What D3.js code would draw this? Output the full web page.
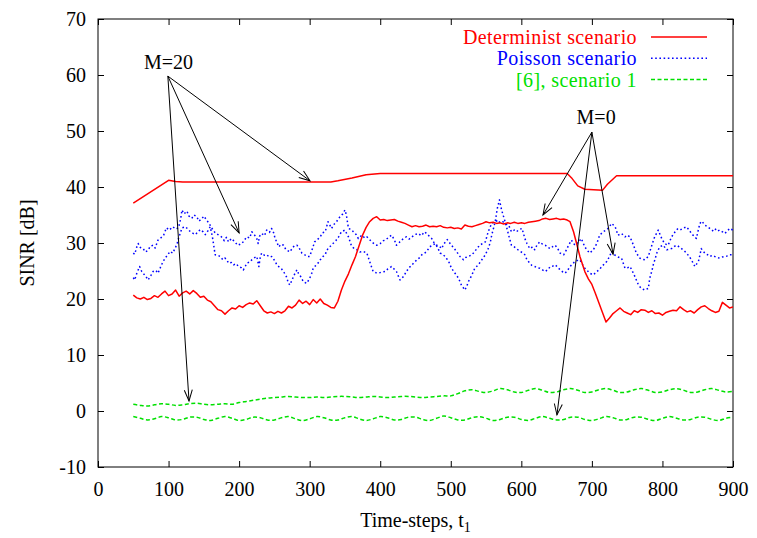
<!DOCTYPE html>
<html>
<head>
<meta charset="utf-8">
<script src="https://cdn.jsdelivr.net/npm/d3@7"></script>
<style>
  html, body { margin: 0; padding: 0; background: #fff; }
  svg text { font-family: "Liberation Serif", "Times New Roman", serif; }
</style>
</head>
<body>
<svg id="chart" width="757" height="538"></svg>
<script>
// ---- axes ----
const xTicks = [0, 100, 200, 300, 400, 500, 600, 700, 800, 900];
const yTicks = [-10, 0, 10, 20, 30, 40, 50, 60, 70];

// ---- Determinist scenario: M=20 (upper) and M=0 (lower), [t, SINR dB] ----
const detM20 = [[50,37.1],[100,41.2],[110,41.0],[120,40.9],[330,40.9],[340,41.1],[360,41.6],[380,42.2],[400,42.4],
  [665,42.4],[672,41.5],[680,40.2],[690,39.6],[715,39.4],[722,40.5],[735,42.0],[900,42.0]];

const detM0 = [[50,20.7],[55,20.2],[60,20.0],[65,20.3],[70,19.9],[75,20.1],[80,20.6],[85,20.3],[90,20.9],[95,21.4],
  [100,20.6],[105,20.9],[110,21.6],[115,20.5],[120,21.1],[125,21.4],[130,20.9],[135,21.5],[140,21.0],[145,20.3],
  [150,20.5],[155,19.8],[160,19.5],[165,18.8],[170,18.1],[175,17.9],[180,17.3],[185,17.9],[190,18.4],[195,18.2],
  [200,18.8],[205,18.5],[210,19.0],[215,19.3],[220,19.1],[225,19.7],[230,18.8],[235,17.9],[240,17.5],[245,17.7],
  [250,17.4],[255,17.8],[260,17.5],[265,17.9],[270,18.7],[275,18.4],[280,18.9],[285,19.8],[290,19.2],[295,19.6],
  [300,19.0],[305,19.9],[310,19.3],[315,20.0],[320,19.2],[325,18.9],[330,18.5],[335,18.4],[340,19.6],[345,21.6],
  [350,23.2],[355,24.5],[360,26.1],[365,27.6],[370,29.5],[375,31.4],[380,32.8],[385,33.8],[390,34.4],[395,34.7],
  [400,34.1],[405,34.2],[410,34.0],[415,34.1],[420,34.2],[425,33.9],[430,33.7],[435,33.5],[440,33.2],[445,32.9],
  [450,33.1],[455,32.9],[460,33.0],[465,33.2],[470,32.9],[475,33.0],[480,32.9],[485,33.1],[490,32.8],[495,32.7],
  [500,32.8],[505,32.6],[510,32.7],[515,32.5],[520,33.2],[525,33.0],[530,32.9],[535,33.1],[540,33.3],[545,33.5],
  [550,33.8],[555,33.6],[560,33.7],[565,33.5],[570,33.6],[575,33.4],[580,33.6],[585,33.5],[590,33.7],[595,33.5],
  [600,33.6],[605,33.5],[610,33.7],[615,33.8],[620,33.9],[625,34.0],[630,34.3],[635,34.4],[640,34.2],[645,34.3],
  [650,34.4],[655,34.2],[660,34.3],[665,34.1],[669,33.8],[674,32.0],[679,29.6],[683,27.6],[690,24.9],[695,23.6],
  [700,22.6],[705,21.0],[710,19.3],[715,17.6],[720,15.9],[725,16.6],[730,17.4],[735,17.9],[740,18.4],[745,17.8],
  [750,17.5],[755,17.2],[760,17.9],[765,17.6],[770,18.1],[775,18.0],[780,17.6],[785,17.9],[790,17.4],[795,17.5],
  [800,17.1],[805,17.6],[810,17.8],[815,18.0],[820,17.9],[825,18.6],[830,18.1],[835,17.7],[840,17.9],[845,17.5],
  [850,18.1],[855,18.6],[860,18.8],[865,18.3],[870,17.9],[875,17.6],[880,17.8],[885,19.4],[890,18.9],[895,18.4],[900,18.6]];

// ---- Poisson scenario: two runs ----
const poissonA = [[50,28.2],[52,28.0],[55,29.3],[57,29.9],[60,29.2],[64,29.0],[67,28.4],[71,28.7],[74,29.4],[78,29.6],
  [81,29.1],[85,30.5],[89,30.9],[93,31.4],[97,32.7],[101,32.3],[106,32.9],[110,32.5],[114,32.7],[117,34.2],
  [119,35.9],[122,35.2],[126,35.7],[129,34.8],[133,34.4],[136,35.0],[140,34.7],[143,33.9],[147,34.3],[150,34.8],
  [154,34.1],[158,33.4],[161,32.7],[164,32.2],[166,31.8],[170,31.5],[175,31.1],[179,30.4],[182,31.0],[185,30.2],
  [189,30.8],[194,30.2],[198,29.6],[204,29.9],[208,30.6],[211,31.1],[215,30.9],[218,32.0],[222,31.4],[225,30.8],
  [227,29.9],[229,31.2],[232,31.7],[236,31.3],[239,32.3],[243,31.9],[246,32.6],[249,31.8],[251,30.8],[254,30.0],
  [256,29.3],[260,29.8],[263,29.6],[266,28.9],[268,28.7],[272,28.4],[274,28.8],[278,29.5],[282,29.6],[286,28.9],
  [289,28.2],[293,27.9],[296,27.6],[300,27.6],[304,29.0],[307,30.2],[311,30.6],[315,31.1],[318,31.8],[322,32.0],
  [326,33.8],[329,33.1],[331,32.6],[335,33.4],[338,33.8],[343,34.7],[347,35.2],[350,35.9],[352,35.0],[355,32.6],
  [359,32.4],[362,32.0],[366,31.5],[369,30.8],[374,31.4],[378,30.9],[381,31.1],[385,30.6],[388,30.2],[392,29.8],
  [395,29.6],[400,29.9],[404,30.4],[407,30.5],[411,30.9],[416,31.4],[420,30.6],[423,29.6],[427,30.1],[430,30.5],
  [434,30.9],[437,31.1],[441,30.7],[445,31.1],[449,31.5],[454,31.7],[458,31.3],[463,32.0],[468,31.4],[473,30.8],
  [476,30.1],[480,29.6],[484,29.4],[487,29.0],[490,29.8],[495,30.6],[501,29.6],[505,29.0],[508,28.5],[513,27.6],
  [518,27.0],[521,27.4],[525,27.6],[530,27.9],[534,28.5],[537,29.0],[541,29.6],[545,29.9],[549,30.2],[553,32.0],
  [558,33.5],[563,33.8],[567,34.1],[570,33.6],[574,33.8],[578,33.4],[582,33.2],[586,32.0],[590,32.3],[593,32.0],
  [597,32.4],[601,32.6],[605,30.8],[608,29.9],[612,29.0],[616,29.3],[619,28.8],[622,29.6],[626,30.2],[630,29.8],
  [634,29.6],[638,29.2],[641,29.0],[645,29.4],[648,29.6],[652,28.9],[655,28.2],[660,27.9],[664,28.8],[667,29.6],
  [671,30.5],[676,29.6],[681,30.2],[685,30.8],[690,29.3],[694,28.6],[697,28.2],[702,28.8],[707,29.9],[711,31.4],
  [716,32.0],[720,32.3],[723,32.6],[728,33.5],[733,32.9],[737,31.4],[742,31.7],[747,31.1],[750,31.4],[754,31.1],
  [759,29.6],[763,28.2],[768,27.3],[771,27.1],[775,27.0],[780,27.6],[785,29.6],[789,31.1],[794,32.3],[799,30.8],
  [803,29.9],[808,29.6],[813,31.1],[818,32.0],[822,32.6],[826,32.4],[829,32.6],[834,32.9],[838,32.3],[841,31.7],
  [845,31.2],[848,30.8],[851,32.4],[853,33.5],[856,33.9],[860,33.2],[864,32.9],[867,32.6],[871,32.2],[874,32.6],
  [878,32.1],[881,32.3],[885,32.0],[888,31.7],[892,32.1],[895,32.6],[900,32.3]];

const poissonB = [[50,23.8],[52,23.4],[55,24.6],[59,25.8],[62,24.9],[66,24.3],[69,23.8],[71,23.4],[75,24.2],[78,24.9],
  [82,25.1],[85,24.6],[88,25.5],[90,26.1],[95,27.3],[99,27.9],[102,28.5],[106,28.2],[109,29.0],[112,29.8],
  [114,30.8],[117,31.9],[119,32.7],[124,32.9],[128,32.4],[131,32.0],[135,31.7],[138,31.5],[141,31.9],[145,32.4],
  [149,32.0],[152,31.5],[156,32.2],[159,32.9],[162,31.2],[164,29.6],[166,27.9],[170,27.8],[173,27.6],[177,27.0],
  [180,27.3],[183,26.9],[185,26.4],[189,26.5],[192,26.1],[196,26.3],[199,25.8],[203,25.6],[206,25.2],[209,25.9],
  [211,26.4],[215,26.6],[218,27.0],[222,27.4],[225,27.6],[228,25.8],[230,27.5],[232,28.2],[236,27.8],[239,27.9],
  [243,27.5],[246,27.6],[249,27.1],[251,26.7],[254,26.0],[256,25.8],[260,25.4],[263,24.9],[267,24.0],[270,22.8],
  [272,22.5],[275,23.4],[277,24.0],[280,24.8],[282,25.2],[284,24.6],[286,24.3],[289,23.6],[291,23.1],[294,22.9],
  [296,22.8],[300,23.7],[303,24.6],[305,25.5],[308,25.9],[310,26.1],[313,26.6],[315,27.0],[319,27.6],[322,27.9],
  [324,28.6],[326,29.0],[330,29.5],[333,29.9],[337,30.4],[341,31.1],[345,32.0],[350,32.3],[352,31.8],[355,31.1],
  [359,29.6],[363,29.0],[367,28.8],[371,28.4],[376,28.5],[381,28.2],[385,26.7],[388,25.6],[390,24.9],[394,24.7],
  [397,24.6],[402,24.8],[407,24.9],[411,25.4],[416,25.8],[420,25.3],[423,24.9],[426,24.0],[428,23.4],[431,23.8],
  [433,24.0],[437,24.9],[441,25.6],[445,26.1],[448,26.5],[452,27.0],[456,27.4],[459,27.9],[463,28.2],[466,28.5],
  [470,29.3],[474,29.6],[478,29.9],[482,29.0],[485,28.2],[488,28.0],[492,27.6],[497,26.7],[501,25.5],[506,24.6],
  [511,23.7],[515,22.5],[520,21.6],[523,22.4],[525,23.1],[530,24.3],[534,25.5],[539,26.1],[544,27.0],[549,27.9],
  [553,29.0],[556,30.1],[558,31.4],[563,33.8],[566,36.2],[569,37.7],[572,35.9],[577,33.8],[580,32.4],[582,31.4],
  [586,29.6],[590,29.3],[593,29.0],[597,28.6],[601,28.3],[605,27.9],[608,27.0],[612,26.4],[615,26.0],[619,25.8],
  [622,25.6],[626,25.5],[630,25.2],[634,24.9],[638,25.3],[641,25.8],[645,25.9],[648,26.1],[652,25.6],[655,25.2],
  [659,24.8],[662,24.6],[666,25.2],[669,25.8],[673,26.3],[676,26.7],[680,26.9],[683,27.0],[687,26.1],[690,25.5],
  [694,25.0],[697,24.6],[702,24.3],[707,24.9],[711,25.3],[714,25.8],[718,26.3],[721,26.7],[725,27.6],[728,28.5],
  [731,28.0],[735,27.6],[739,27.4],[742,27.3],[745,26.2],[747,25.5],[751,25.6],[754,25.8],[758,24.8],[761,24.0],
  [766,22.5],[770,21.9],[775,21.6],[780,21.9],[782,23.7],[785,25.0],[787,26.1],[790,27.3],[792,28.2],[796,29.3],
  [801,29.6],[806,28.8],[810,28.9],[813,29.0],[817,29.4],[820,29.6],[824,29.3],[827,29.0],[831,28.6],[834,28.2],
  [838,27.6],[841,27.0],[846,25.8],[851,26.7],[853,27.8],[855,29.0],[860,28.2],[864,27.9],[867,27.6],[871,27.8],
  [874,27.6],[878,27.4],[881,27.3],[885,27.5],[888,27.6],[892,27.7],[895,27.9],[900,27.9]];

// ---- [6], scenario 1: two runs ----
const ref6High = [[50,1.2],[60,1.0],[70,0.9],[80,1.1],[90,1.3],[100,1.2],[110,1.0],[120,1.1],[130,1.3],[140,1.4],
  [150,1.2],[160,1.1],[170,1.2],[180,1.3],[190,1.2],[200,1.5],[210,1.7],[220,1.9],[230,2.1],[240,2.3],
  [250,2.4],[260,2.5],[270,2.6],[280,2.5],[290,2.4],[300,2.4],[310,2.5],[320,2.4],[330,2.5],[340,2.6],
  [350,2.6],[360,2.5],[370,2.4],[380,2.5],[390,2.6],[400,2.5],[410,2.4],[420,2.5],[430,2.6],[440,2.6],
  [450,2.5],[460,2.4],[470,2.5],[480,2.6],[490,2.7],[500,2.7],[510,3.1],[520,3.6],[530,3.8],[540,3.5],
  [550,3.3],[560,3.6],[570,4.0],[580,3.8],[590,3.4],[600,3.3],[610,3.7],[620,4.0],[630,3.7],[640,3.3],
  [650,3.4],[660,3.8],[670,4.0],[680,3.7],[690,3.3],[700,3.4],[710,3.8],[720,4.0],[730,3.7],[740,3.3],
  [750,3.4],[760,3.8],[770,4.0],[780,3.7],[790,3.3],[800,3.4],[810,3.8],[820,4.0],[830,3.7],[840,3.3],
  [850,3.4],[860,3.8],[870,4.0],[880,3.7],[890,3.4],[900,3.5]];

const ref6Low = [[50,-1.0],[60,-1.3],[70,-1.6],[80,-1.4],[90,-1.0],[100,-1.2],[110,-1.6],[120,-1.5],[130,-1.1],[140,-1.1],
  [150,-1.5],[160,-1.7],[170,-1.3],[180,-1.0],[190,-1.3],[200,-1.7],[210,-1.5],[220,-1.1],[230,-1.2],[240,-1.6],
  [250,-1.6],[260,-1.2],[270,-1.0],[280,-1.4],[290,-1.7],[300,-1.4],[310,-1.0],[320,-1.2],[330,-1.6],[340,-1.6],
  [350,-1.2],[360,-1.0],[370,-1.4],[380,-1.7],[390,-1.4],[400,-1.0],[410,-1.2],[420,-1.6],[430,-1.5],[440,-1.1],
  [450,-1.1],[460,-1.5],[470,-1.7],[480,-1.3],[490,-0.9],[500,-1.2],[510,-1.6],[520,-1.6],[530,-1.2],[540,-1.0],
  [550,-1.3],[560,-1.7],[570,-1.5],[580,-1.1],[590,-1.1],[600,-1.5],[610,-1.7],[620,-1.3],[630,-1.0],[640,-1.3],
  [650,-1.6],[660,-1.5],[670,-1.1],[680,-1.1],[690,-1.5],[700,-1.7],[710,-1.4],[720,-1.0],[730,-1.2],[740,-1.6],
  [750,-1.5],[760,-1.1],[770,-1.1],[780,-1.5],[790,-1.7],[800,-1.3],[810,-1.0],[820,-1.3],[830,-1.6],[840,-1.5],
  [850,-1.1],[860,-1.1],[870,-1.5],[880,-1.7],[890,-1.3],[900,-1.1]];

// ---- annotations: label anchor, arrow origin and arrow targets in data units ----
const annM20 = { text: "M=20", at: [100, 61.0], from: [99, 59.8], to: [[300.5, 41.1], [200, 31.8], [129, 1.8]] };
const annM0  = { text: "M=0",  at: [706, 51.3], from: [700, 49.8], to: [[630.7, 35.0], [730, 28.0], [650.5, -0.7]] };

const legendItems = [
  { label: "Determinist scenario", color: "#ff0000", dash: null },
  { label: "Poisson scenario",     color: "#0000ff", dash: "1.6,2.6" },
  { label: "[6], scenario 1",      color: "#00e000", dash: "4,2.5" }
];

// ---- layout ----
const svg = d3.select("#chart");
const plot = { left: 98, right: 733, top: 19, bottom: 467 };
const x = d3.scaleLinear().domain([0, 900]).range([plot.left, plot.right]);
const y = d3.scaleLinear().domain([-10, 70]).range([plot.bottom, plot.top]);

const fontSize = "20px";
const plainInt = d => String(d);

// bottom axis with labels, inward ticks
const gb = svg.append("g").attr("transform", `translate(0,${plot.bottom})`)
  .call(d3.axisBottom(x).tickValues(xTicks).tickSize(-6).tickPadding(15).tickFormat(plainInt));
// top axis: ticks only
const gt = svg.append("g").attr("transform", `translate(0,${plot.top})`)
  .call(d3.axisTop(x).tickValues(xTicks).tickSize(-6).tickFormat(""));
// left axis with labels
const gl = svg.append("g").attr("transform", `translate(${plot.left},0)`)
  .call(d3.axisLeft(y).tickValues(yTicks).tickSize(-6).tickPadding(12).tickFormat(plainInt));
// right axis: ticks only
const gr = svg.append("g").attr("transform", `translate(${plot.right},0)`)
  .call(d3.axisRight(y).tickValues(yTicks).tickSize(-6).tickFormat(""));

[gb, gt, gl, gr].forEach(g => {
  g.attr("font-family", "Liberation Serif, Times New Roman, serif");
  g.select(".domain").remove();
  g.selectAll(".tick line").attr("stroke", "#000").attr("stroke-width", 1);
  g.selectAll(".tick text").attr("font-size", fontSize).attr("fill", "#000");
});

// frame
svg.append("rect")
  .attr("x", plot.left).attr("y", plot.top)
  .attr("width", plot.right - plot.left).attr("height", plot.bottom - plot.top)
  .attr("fill", "none").attr("stroke", "#000").attr("stroke-width", 1);

// axis titles
svg.append("text")
  .attr("transform", `translate(34,${(plot.top + plot.bottom) / 2}) rotate(-90)`)
  .attr("text-anchor", "middle").attr("font-size", fontSize).attr("fill", "#000")
  .text("SINR [dB]");

const xt = svg.append("text")
  .attr("x", (plot.left + plot.right) / 2).attr("y", 527)
  .attr("text-anchor", "middle").attr("font-size", fontSize).attr("fill", "#000");
xt.append("tspan").text("Time-steps, t");
xt.append("tspan").attr("font-size", "14px").attr("dy", 5).text("1");

// ---- series ----
const lineLin = d3.line().x(d => x(d[0])).y(d => y(d[1]));
const lineSmooth = d3.line().x(d => x(d[0])).y(d => y(d[1])).curve(d3.curveCatmullRom.alpha(0.5));

svg.append("clipPath").attr("id", "plotclip").append("rect")
  .attr("x", plot.left).attr("y", plot.top)
  .attr("width", plot.right - plot.left).attr("height", plot.bottom - plot.top);

const gData = svg.append("g").attr("clip-path", "url(#plotclip)");

const series = [
  { data: ref6High, gen: lineSmooth, style: legendItems[2] },
  { data: ref6Low,  gen: lineSmooth, style: legendItems[2] },
  { data: poissonA, gen: lineLin,    style: legendItems[1] },
  { data: poissonB, gen: lineLin,    style: legendItems[1] },
  { data: detM20,   gen: lineLin,    style: legendItems[0] },
  { data: detM0,    gen: lineLin,    style: legendItems[0] }
];

series.forEach(s => {
  gData.append("path")
    .attr("d", s.gen(s.data))
    .attr("fill", "none")
    .attr("stroke", s.style.color)
    .attr("stroke-width", 1.5)
    .attr("stroke-linejoin", "round")
    .attr("stroke-dasharray", s.style.dash);
});

// ---- legend ----
const legend = svg.append("g");
legendItems.forEach((it, i) => {
  const cy = 37 + i * 21.3;
  legend.append("text")
    .attr("x", 637).attr("y", cy + 7)
    .attr("text-anchor", "end").attr("font-size", fontSize).attr("fill", it.color)
    .attr("letter-spacing", "0.4px")
    .text(it.label);
  legend.append("line")
    .attr("x1", 651).attr("x2", 707).attr("y1", cy).attr("y2", cy)
    .attr("stroke", it.color).attr("stroke-width", 1.5)
    .attr("stroke-dasharray", it.dash);
});

// ---- annotations with open arrowheads ----
svg.append("defs").append("marker")
  .attr("id", "openArrow")
  .attr("viewBox", "-12 -6 14 12")
  .attr("refX", 0).attr("refY", 0)
  .attr("markerWidth", 14).attr("markerHeight", 12)
  .attr("markerUnits", "userSpaceOnUse")
  .attr("orient", "auto")
  .append("path")
  .attr("d", "M-11,-4 L0,0 L-11,4")
  .attr("fill", "none").attr("stroke", "#000").attr("stroke-width", 1);

[annM20, annM0].forEach(a => {
  svg.append("text")
    .attr("x", x(a.at[0])).attr("y", y(a.at[1]))
    .attr("text-anchor", "middle").attr("font-size", fontSize).attr("fill", "#000")
    .text(a.text);
  a.to.forEach(tg => {
    svg.append("line")
      .attr("x1", x(a.from[0])).attr("y1", y(a.from[1]))
      .attr("x2", x(tg[0])).attr("y2", y(tg[1]))
      .attr("stroke", "#000").attr("stroke-width", 1)
      .attr("marker-end", "url(#openArrow)");
  });
});
</script>
</body>
</html>
